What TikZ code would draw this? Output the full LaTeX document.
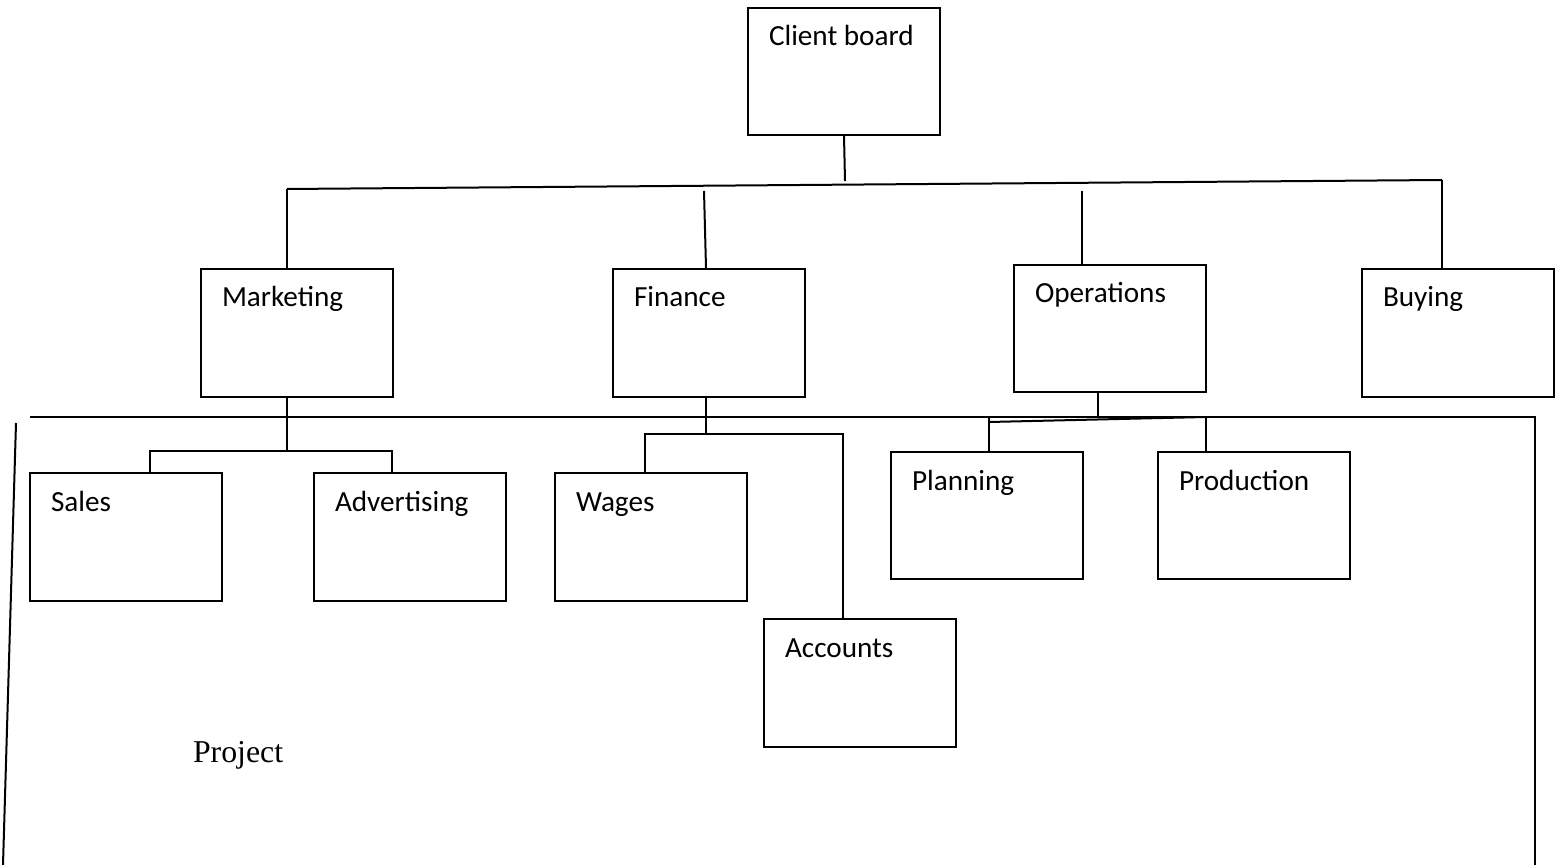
\documentclass[tikz,border=0pt]{standalone}
\usepackage{fontspec}
\setmainfont{Carlito}
\newfontfamily\serifface{Liberation Serif}
\usetikzlibrary{calc}
\begin{document}
\begin{tikzpicture}[x=0.5pt,y=-0.5pt,
  line width=1pt,
  deptbox/.style={draw=black,line width=1pt,rectangle,anchor=north west,inner sep=0pt,
    minimum width=96pt,minimum height=64pt},
  deptname/.style={anchor=base west,inner sep=0pt,font=\fontsize{14.6}{17}\selectfont},
  link/.style={draw=black,line width=1pt}]
\useasboundingbox (0,0) rectangle (1562,865);

% department boxes
\node[deptbox,minimum height=63.5pt] (client) at (747,7) {};
\node[deptbox] (mkt)   at (200,268) {};
\node[deptbox] (fin)   at (612,268) {};
\node[deptbox,minimum height=63.5pt] (ops) at (1013,264) {};
\node[deptbox] (buy)   at (1361,268) {};
\node[deptbox] (sales) at (29,472) {};
\node[deptbox] (adv)   at (313,472) {};
\node[deptbox] (wages) at (554,472) {};
\node[deptbox] (acc)   at (763,618) {};
\node[deptbox,minimum height=63.5pt] (plan) at (890,451) {};
\node[deptbox,minimum height=63.5pt] (prod) at (1157,451) {};

% box labels
\foreach \b/\t in {client/Client board,mkt/Marketing,fin/Finance,ops/Operations,buy/Buying,
  sales/Sales,adv/Advertising,wages/Wages,acc/Accounts,plan/Planning,prod/Production}
  \node[deptname] (\b-name) at ($(\b.north west)+(21,39)$) {\t};

\node[anchor=base west,inner sep=0pt,font=\serifface\fontsize{15.9}{19}\selectfont] (project) at (192,762) {Project};

% junction points
\coordinate (busL) at (287,189);
\coordinate (busR) at (1442,180);
\coordinate (clientEnd) at (845,181);
\coordinate (finTop) at (704,191);
\coordinate (opsTop) at (1082,191);
\coordinate (lowL) at (30,417);
\coordinate (lowR) at (1535,417);
\coordinate (lowB) at (1535,865);
\coordinate (edgeT) at (16,423);
\coordinate (edgeB) at (3,865);
\coordinate (mktJ) at (287,451);
\coordinate (salesJ) at (150,451);
\coordinate (advJ) at (392,451);
\coordinate (finJ) at (706,434);
\coordinate (wagesJ) at (645,434);
\coordinate (accJ) at (843,434);
\coordinate (opsJ) at (1098,417);
\coordinate (planJ) at (989,422);
\coordinate (planT) at (989,418);
\coordinate (prodJ) at (1206,417);

% top level
\draw[link] (client.south) -- (clientEnd);
\draw[link] (busL) -- (busR);
\draw[link] (busL) -- (busL |- mkt.north);
\draw[link] (finTop) -- ($(fin.north west)+(94,0)$);
\draw[link] (opsTop) -- (opsTop |- ops.north);
\draw[link] (busR) -- (busR |- buy.north);

% project frame
\draw[link] (lowL) -- (lowR) -- (lowB);
\draw[link] (edgeT) -- (edgeB);

% marketing branch
\draw[link] (mktJ |- mkt.south) -- (mktJ);
\draw[link] (salesJ |- sales.north) -- (salesJ) -- (advJ) -- (advJ |- adv.north);

% finance branch
\draw[link] (finJ |- fin.south) -- (finJ);
\draw[link] (wagesJ |- wages.north) -- (wagesJ) -- (accJ) -- (accJ |- acc.north);

% operations branch
\draw[link] (opsJ |- ops.south) -- (opsJ);
\draw[link] (planJ) -- (prodJ);
\draw[link] (planT) -- (planT |- plan.north);
\draw[link] (prodJ) -- (prodJ |- prod.north);
\end{tikzpicture}
\end{document}
